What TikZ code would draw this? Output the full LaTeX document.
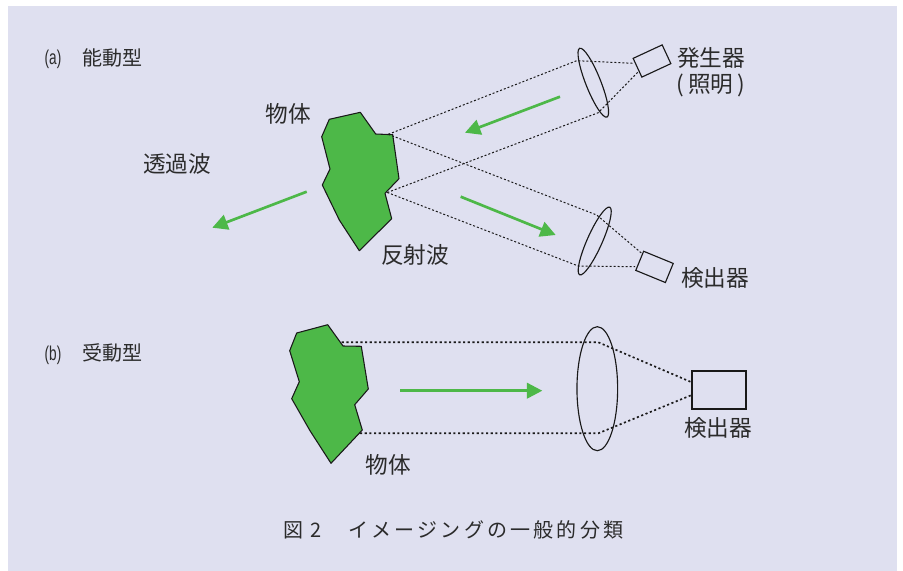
\documentclass[tikz,border=0pt]{standalone}
\usepackage{fontspec}
\usepackage{tikz}
\usetikzlibrary{positioning,arrows.meta,shapes.geometric}
\newfontfamily\cjk{Noto Sans CJK JP}
\newfontfamily\capfont[LetterSpace=16]{Noto Sans CJK JP}
\setmainfont{Liberation Sans}
\definecolor{panelbg}{HTML}{DFE0F0}
\definecolor{objgreen}{HTML}{4DB848}
\definecolor{inkgrey}{HTML}{2B2B2B}

\begin{document}
\begin{tikzpicture}
[x=0.75pt,y=-0.75pt,node distance=5pt,>={Triangle[length=11.5pt,width=11.5pt]},
lbl/.style={font=\cjk\fontsize{17}{18}\selectfont,text=inkgrey,inner sep=0pt},
small/.style={font=\cjk\fontsize{15}{17}\selectfont,text=inkgrey,inner sep=0pt},
tag/.style={font=\fontsize{15}{17}\selectfont,text=inkgrey,inner sep=0pt,xscale=0.68},
obj/.style={draw=black!90,fill=objgreen,line width=0.8pt,line join=round},
lens/.style={draw=black!90,ellipse,inner sep=0pt,line width=0.85pt,minimum width=11.25pt,minimum height=55.5pt},
biglens/.style={lens,minimum width=30.5pt,minimum height=93pt},
det/.style={draw=black!90,line width=0.85pt,inner sep=0pt,minimum width=24pt,minimum height=15.5pt},
ray/.style={draw=black!90,line width=0.75pt,dash pattern=on 1.5pt off 1.5pt},
bigray/.style={draw=black!90,line width=1.25pt,dash pattern=on 1.6pt off 1.9pt},
wave/.style={->,draw=objgreen,fill=objgreen,line width=2pt}]

\useasboundingbox (0,0) rectangle (903,571);
\fill[panelbg] (8,6) rectangle (897,571);

% (a)
\node[tag] (taga) at (53,59) {(a)};
\node[small] (kind_a) at (112,58) {能動型};

\draw[obj] (329.3,119.3) -- (360.3,112.3) -- (375.7,134) -- (392.7,134.7)
  -- (399,178.7) -- (385,193.3) -- (391.7,218.7) -- (359.3,250.7)
  -- (339.3,220) -- (322.3,185) -- (330,169) -- (321.7,136.7) -- cycle;
\coordinate (obja1) at (388.3,134.3);
\coordinate (obja2) at (387.3,192.5);

\node[lens,rotate=21.6] (lens1) at (593.3,82.7) {};
\node[lens,rotate=-24] (lens2) at (594.7,241) {};
\node[det,rotate=24.9] (det1) at (652,61) {};
\node[det,rotate=-22.3] (det2) at (654.5,266.9) {};

\coordinate (p1) at (576.7,60.7);
\coordinate (p2) at (598.3,112.7);
\coordinate (p3) at (596.7,215);
\coordinate (p4) at (578.3,266);
\coordinate (d1) at (633.3,63.3);
\coordinate (d2) at (638.3,71.7);
\coordinate (d3) at (641.7,253.3);
\coordinate (d4) at (635,266.7);

\draw[ray] (obja1) -- (p1) -- (d1);
\draw[ray] (obja2) -- (p2) -- (d2);
\draw[ray] (obja1) -- (p3) -- (d3);
\draw[ray] (obja2) -- (p4) -- (d4);

\coordinate (w1s) at (560,96.7);
\coordinate (w1e) at (465,132.7);
\coordinate (w2s) at (460.7,196.7);
\coordinate (w2e) at (555.7,235);
\coordinate (w3s) at (306.7,191.7);
\coordinate (w3e) at (212.3,227.7);
\draw[wave] (w1s) -- (w1e);
\draw[wave] (w2s) -- (w2e);
\draw[wave] (w3s) -- (w3e);

\node[lbl] (gen) at (711,58) {発生器};
\node[lbl,below=4pt of gen] (light) {(\,照明\,)};
\node[lbl] (obj_a) at (288,114) {物体};
\node[lbl] (trans) at (177,164) {透過波};
\node[lbl] (refl) at (415,255) {反射波};
\node[lbl] (sens_a) at (715,278) {検出器};

% (b)
\node[tag] (tagb) at (53,355) {(b)};
\node[small] (kind_b) at (112,353) {受動型};

\draw[obj] (296.7,333) -- (327.7,324.7) -- (343,346) -- (361.3,346.3)
  -- (368.3,389) -- (354.7,404.7) -- (362.3,430) -- (331,463.3)
  -- (310,430.7) -- (291.7,398.7) -- (299.3,381.7) -- (289.7,350.7) -- cycle;
\coordinate (objb1) at (341.7,342.3);
\coordinate (objb2) at (360,433.3);

\node[biglens] (lens3) at (597.3,388.7) {};
\node[draw=black!90,line width=1.4pt,inner sep=0pt,minimum width=41pt,minimum height=28.3pt] (det3) at (719,389.8) {};

\coordinate (p5) at (598.3,342.3);
\coordinate (p6) at (598.3,433.3);
\coordinate (d5) at (691.7,382.3);
\coordinate (d6) at (691.7,395);
\draw[bigray] (objb1) -- (p5) -- (d5);
\draw[bigray] (objb2) -- (p6) -- (d6);

\coordinate (w4s) at (400,390.7);
\coordinate (w4e) at (542.3,390.7);
\draw[wave] (w4s) -- (w4e);

\node[lbl] (sens_b) at (718,428) {検出器};
\node[lbl] (obj_b) at (388,465) {物体};

\node[small,font=\capfont\fontsize{15}{17}\selectfont,anchor=west] (caption) at (283,530) {図 2　イメージングの一般的分類};
\end{tikzpicture}
\end{document}
